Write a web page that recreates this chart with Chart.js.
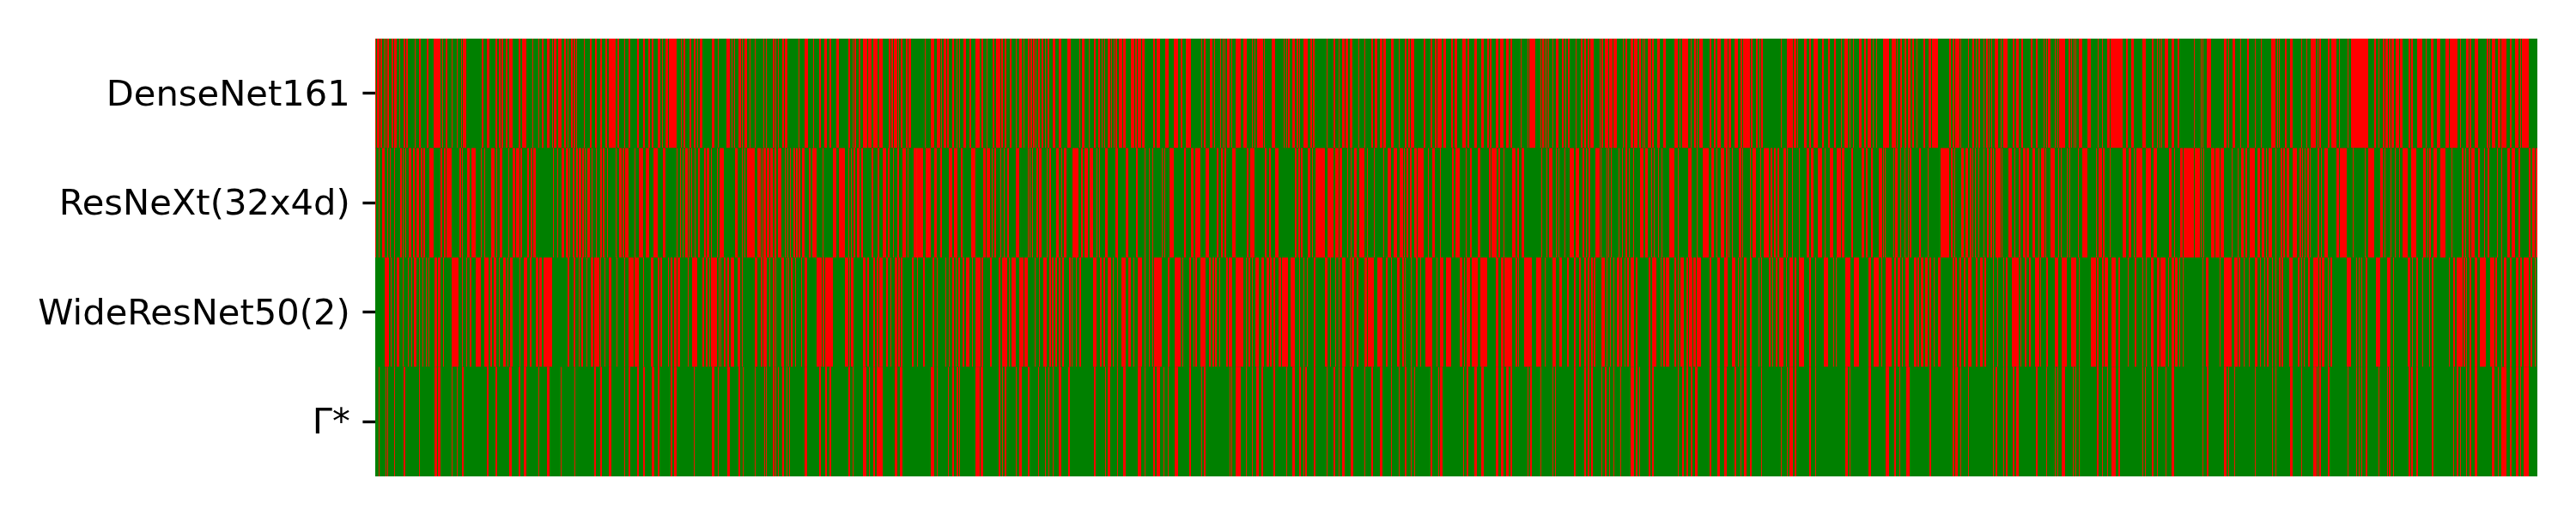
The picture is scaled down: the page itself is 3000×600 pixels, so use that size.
<!DOCTYPE html>
<html><head><meta charset="utf-8">
<style>html,body{margin:0;padding:0;background:#fff}canvas{display:block}</style>
<script src="https://cdn.jsdelivr.net/npm/chart.js@4"></script>
</head><body><canvas id="c" width="3000" height="600"></canvas>
<script>
const rowLabels = ["DenseNet161","ResNeXt(32x4d)","WideResNet50(2)","Γ*"];
const sampleCount = 2518;
const sectionSize = 315;
// Wrong-prediction runs per model, one list per section of samples: start, length, start, length ...
const denseNet161 = [
[0,1,2,3,6,2,10,1,12,1,14,2,19,2,22,3,28,1,33,2,36,2,46,1,51,2,60,2,68,8,78,1,82,2,89,1,95,1,100,1,102,4,124,2,130,3,140,2,144,2,147,2,152,2,156,4,167,2,171,5,183,1,190,1,194,2,200,3,206,1,208,3,213,4,220,2,224,1,228,2,231,2,234,1,243,1,250,2,256,2,262,2,268,2,272,8,282,2,290,1,295,2,305,2,312,2],
[3,2,7,2,14,3,19,1,23,3,27,9,41,1,44,2,51,2,56,2,60,1,63,3,77,3,84,1,94,4,100,1,103,1,108,3,112,1,115,3,121,1,127,1,137,1,140,1,148,2,151,1,154,1,159,2,162,3,178,1,185,4,195,1,202,2,208,3,214,2,222,3,236,2,241,1,243,2,248,2,253,5,259,4,265,5,272,4,283,2,286,2,289,4,294,1,297,2,303,2,306,3],
[10,1,17,4,24,4,29,1,32,3,36,2,42,2,47,1,50,1,55,3,62,2,69,5,76,2,82,1,89,2,93,5,99,2,103,2,109,2,116,1,120,3,125,1,130,2,133,2,136,2,139,1,142,2,146,2,150,1,153,2,159,3,166,3,176,4,190,1,193,3,201,1,207,2,212,2,216,1,219,1,223,3,227,1,230,1,232,2,236,4,241,3,250,4,255,2,258,4,263,3,276,2,280,4,290,4,300,5,308,2,314,1],
[0,5,17,1,20,2,27,3,32,1,39,1,42,1,44,1,47,3,52,1,57,6,66,4,76,1,79,1,82,7,90,1,99,4,113,1,116,1,118,2,123,3,128,2,131,1,136,5,144,2,147,2,163,1,171,2,177,1,181,3,185,3,190,2,192,1,200,1,207,1,215,2,219,3,225,3,229,3,238,3,247,1,254,2,258,2,261,4,276,2,284,2,289,2,292,3,295,2,299,3,308,2,312,3],
[6,4,12,2,20,3,28,3,35,2,38,2,45,3,50,4,57,3,62,2,74,1,82,1,84,7,97,1,99,2,102,1,104,1,106,1,111,1,115,3,122,2,126,1,129,2,138,1,144,2,148,2,152,2,155,4,166,1,168,2,172,4,177,4,182,4,193,1,196,2,202,3,206,4,212,2,216,1,218,1,222,4,227,2,233,3,240,3,253,4,259,1,262,7,272,1,276,2,279,1,282,4,294,2,299,2,303,4,311,4],
[1,3,8,4,15,2,18,8,27,2,33,2,37,1,39,2,62,1,69,7,77,3,81,1,89,3,95,2,100,5,110,2,117,2,124,2,132,1,136,4,142,1,146,1,153,3,159,2,163,4,169,1,173,1,181,7,191,5,197,1,201,2,206,2,210,3,215,2,220,1,228,2,234,3,238,3,241,4,258,2,262,2,265,5,271,1,280,1,285,2,289,1,292,2,298,1,301,2,304,1,307,1,311,4],
[3,1,6,5,17,2,21,3,27,2,38,2,44,2,53,1,56,1,58,3,66,1,69,1,71,7,82,2,85,1,88,1,90,1,94,4,104,4,116,1,121,1,127,3,131,14,149,2,155,3,168,4,179,2,185,1,188,1,190,1,194,4,202,3,209,2,228,1,236,1,238,1,243,5,263,3,268,1,273,3,282,1,290,2,299,1,306,1],
[3,5,10,1,12,1,19,2,25,3,38,1,44,1,49,6,57,1,59,2,69,2,73,6,82,1,92,1,96,3,99,14,113,3,123,2,128,1,133,2,136,3,140,2,143,3,148,4,153,3,163,2,166,2,173,6,183,1,189,3,196,4,206,4,211,2,213,7,223,1,230,3,234,2,240,4,254,2,257,1,260,4,267,3,271,6,281,2,287,4,293,1,295,8]
];
const resNeXt32x4d = [
[0,1,4,1,8,3,14,1,17,1,22,1,29,2,32,1,35,1,39,3,44,2,48,3,53,2,56,2,63,5,76,2,80,2,83,6,98,2,101,1,107,3,112,5,123,1,127,1,135,4,141,1,145,3,155,1,160,3,164,4,169,2,177,2,181,2,184,3,207,1,212,1,217,3,222,3,226,1,230,2,234,2,237,3,241,2,244,1,247,3,252,1,257,1,262,2,265,2,270,1,280,1,284,3,288,2,291,4,302,1,307,5],
[0,4,9,5,20,3,36,1,40,1,43,1,46,3,50,1,53,1,57,1,61,2,68,2,71,3,76,1,83,1,86,5,104,3,112,1,115,1,118,4,122,5,130,4,135,1,137,3,141,3,145,3,150,2,154,4,162,1,165,1,168,1,172,2,175,2,178,2,182,3,190,2,194,1,195,4,206,1,218,4,225,7,236,1,239,1,242,2,246,3,251,2,263,2,270,2,276,4,282,2,288,1,293,2,299,4,305,1,312,3],
[0,1,1,7,11,6,21,3,28,2,38,4,44,4,52,2,64,5,78,3,82,4,88,1,91,2,98,1,102,1,106,2,116,4,130,1,132,1,135,1,140,2,143,3,152,1,155,2,163,3,169,1,172,3,182,7,192,2,196,4,202,4,210,1,213,1,220,3,232,3,244,3,256,2,266,1,271,1,275,1,286,1,289,1,295,5,312,2],
[5,3,10,2,12,4,22,4,35,2,40,2,44,2,53,4,70,2,74,5,91,2,96,2,103,4,126,2,130,2,133,2,141,3,146,1,150,4,154,7,164,4,168,3,173,4,178,3,187,1,191,1,195,3,201,6,210,1,218,1,229,1,234,4,241,4,248,4,253,1,256,2,260,2,265,3,269,7,281,1,286,3,295,1,309,2,313,2],
[0,3,10,1,15,2,24,3,37,2,40,6,48,2,54,1,64,4,70,2,75,3,98,1,104,1,107,4,115,1,118,1,125,1,131,5,138,4,146,2,150,1,153,2,161,5,167,1,174,1,176,1,179,1,188,1,192,1,196,2,200,1,205,1,213,4,219,3,226,1,229,1,234,1,238,1,247,6,257,1,269,4,279,1,286,7,296,3,302,1,307,4,313,2],
[1,1,5,1,13,3,17,1,26,1,29,4,38,1,42,6,50,2,54,2,58,2,65,3,69,1,75,1,83,1,92,3,97,3,105,5,113,1,119,4,127,5,133,3,144,2,156,3,161,2,167,2,176,4,181,1,183,1,193,1,195,3,201,1,206,1,210,1,212,2,223,2,233,1,248,10,260,2,264,1,272,3,277,3,282,2,285,1,288,1,292,1,298,1,302,2,306,2,309,1,312,3],
[0,3,4,1,12,4,19,1,24,2,29,3,33,3,40,3,47,1,50,4,55,1,61,5,70,1,73,1,80,1,83,1,93,1,98,6,114,1,117,4,122,2,130,1,145,4,152,3,158,1,161,7,172,6,181,4,199,3,205,1,212,3,216,12,229,6,236,1,239,1,248,4,253,5,259,4,272,1,279,1,283,3,288,2,293,6,302,3,307,3,312,1],
[0,4,8,1,14,2,17,2,21,3,28,5,36,2,39,1,42,1,45,2,48,1,57,2,61,1,65,4,79,3,83,8,98,1,112,1,116,7,130,3,135,1,142,1,147,1,152,1,156,6,166,6,180,3,185,1,187,2,192,4,200,6,213,1,225,2,229,1,233,2,236,4,244,2,251,1,255,2,266,1,271,1,278,3,283,4,291,2,303,2,307,3,311,2]
];
const wideResNet502 = [
[11,5,18,1,22,1,25,3,32,1,38,1,42,1,45,3,51,1,55,1,59,1,62,1,69,3,73,3,79,1,89,8,101,1,106,1,110,2,117,6,127,5,134,2,138,3,144,1,149,3,154,1,157,3,168,1,173,4,180,2,187,3,191,3,196,10,224,2,231,2,237,1,240,2,246,1,251,3,255,2,257,4,262,1,267,1,272,3,281,1,290,1,295,6,302,5,312,1],
[6,3,14,2,17,2,26,1,29,2,33,3,37,3,49,1,54,4,58,2,66,2,70,2,74,1,76,7,85,1,87,1,91,2,95,2,99,2,101,2,107,3,112,1,127,3,134,2,137,4,144,1,148,2,151,1,158,3,164,1,166,1,169,2,174,1,181,1,185,3,199,6,206,2,209,9,232,4,237,1,239,3,253,3,258,2,265,2,269,2,272,4,280,2,285,1,290,3,294,2,297,2,310,2],
[1,1,8,2,19,2,24,1,34,1,38,1,42,2,46,1,49,2,54,2,58,4,65,1,69,6,76,2,86,2,96,2,100,6,108,1,111,5,120,5,126,4,138,1,143,1,148,4,155,2,158,2,162,2,166,2,170,2,178,2,181,1,186,1,190,2,206,4,214,2,218,2,223,4,229,1,234,1,239,5,247,3,253,1,258,5,266,1,271,1,275,1,277,9,293,2,301,7,310,1],
[3,2,8,1,10,2,16,6,26,2,30,2,33,2,38,1,46,2,49,4,57,9,69,1,72,2,76,1,80,4,87,3,93,3,97,2,101,2,107,3,111,7,121,5,131,1,136,1,140,1,148,2,161,3,167,1,173,1,177,1,181,4,190,1,192,3,198,2,207,3,211,7,222,6,232,2,238,1,245,3,251,2,254,1,261,1,267,2,272,1,278,8,291,1,295,4,302,6],
[3,3,8,1,11,4,17,7,27,8,45,3,51,3,55,9,68,2,71,1,78,7,85,2,92,6,102,1,111,4,119,3,128,2,136,2,142,2,148,2,152,2,156,2,159,2,168,4,174,1,178,1,182,1,186,3,190,2,195,1,198,2,202,4,208,2,223,2,227,5,237,1,240,2,243,4,253,2,257,1,260,4,267,2,270,4,275,3,279,5,294,2,303,3,311,4],
[5,4,12,1,15,1,19,3,26,2,36,1,39,1,48,2,52,1,56,2,60,5,68,1,72,4,78,2,83,6,95,2,102,1,112,5,123,1,126,1,137,6,147,6,164,3,170,6,179,1,184,7,194,2,198,3,203,1,207,4,217,3,221,2,225,3,230,3,235,2,240,1,245,3,262,2,265,2,270,2,275,2,280,4,289,2,294,3,299,2,309,1,314,1],
[6,1,9,2,16,4,20,4,26,1,31,2,36,2,43,5,49,1,56,2,66,4,74,6,85,6,94,1,108,6,115,2,121,2,124,4,132,5,140,2,151,1,159,2,168,1,172,1,178,3,185,3,189,3,192,3,198,1,202,3,206,3,211,1,215,1,238,1,242,3,258,1,263,9,275,4,280,2,286,1,292,1,299,3,305,1,310,1,313,2],
[4,1,8,1,12,2,15,2,24,4,34,2,38,1,41,1,46,2,52,6,59,2,62,3,69,1,72,2,91,5,102,1,105,1,108,1,113,2,125,5,138,4,145,1,162,3,167,1,172,2,179,1,187,1,190,2,210,1,215,2,219,7,227,2,230,1,234,2,240,3,246,5,251,2,258,5,264,2,271,1,274,3,281,2,288,3,293,2,297,6,305,2,310,1]
];
const gammaStar = [
[4,1,12,1,14,1,22,1,33,2,51,1,69,3,73,3,89,1,95,1,101,2,130,2,140,2,156,3,167,2,173,3,190,1,200,3,216,1,232,1,255,2,262,2,272,3,290,1,295,2,305,2,312,2],
[7,3,14,2,29,2,33,3,56,1,77,3,84,1,95,3,108,2,113,1,127,1,138,1,140,1,148,2,151,1,154,1,159,2,164,1,167,1,185,3,202,2,209,2,214,2,236,2,241,1,253,4,260,1,265,2,269,7,290,3,296,3],
[17,4,24,1,37,1,42,2,47,2,50,1,69,5,75,3,96,2,100,1,103,2,116,1,120,3,130,2,142,1,150,1,154,1,159,1,166,3,177,2,207,2,220,1,223,3,234,1,241,3,258,4,266,1,276,2,280,4,288,1,293,1,301,4],
[3,2,17,1,20,2,50,1,52,1,57,6,69,1,76,1,81,3,87,2,101,2,116,1,123,3,131,2,136,1,138,2,148,2,163,1,171,2,177,1,181,3,191,3,207,1,215,2,225,3,238,1,247,1,254,2,261,1,265,1,284,2,293,1,295,3],
[7,1,11,2,20,3,28,3,45,3,51,3,57,3,62,2,82,1,85,2,97,1,111,1,114,1,136,2,148,2,152,2,156,2,168,1,172,2,177,1,182,1,190,1,202,4,208,2,212,1,223,2,227,2,257,1,262,2,267,2,272,2,277,3,294,2,303,3,311,3],
[8,2,15,1,19,3,26,2,39,1,62,1,69,1,72,4,78,2,95,2,102,1,137,3,142,1,164,3,184,4,194,2,200,1,208,4,235,2,262,2,265,3,271,1,280,1,309,1,312,2],
[6,1,9,2,17,2,21,3,44,2,56,1,66,1,69,1,74,4,87,1,90,1,94,1,115,2,121,1,127,1,132,5,140,2,168,1,171,1,179,2,185,1,195,1,202,3,238,1,243,2,263,3,268,1,275,1,299,1],
[4,1,8,1,25,3,38,1,52,4,57,1,59,2,69,2,92,1,102,1,105,1,108,1,113,2,128,1,138,1,140,2,145,1,163,2,166,2,172,2,190,2,215,1,219,2,223,1,230,1,234,2,240,3,260,3,267,1,271,6,281,2,288,3,293,1,297,6]
];

const GREEN = "#008000", RED = "#ff0000", THIN = "#e61a00";
function cellColours(sections) {
  const c = new Array(sampleCount).fill(GREEN);
  sections.forEach((s, k) => {
    for (let i = 0; i < s.length; i += 2) {
      for (let j = 0; j < s[i + 1]; j++) {
        const col = k * sectionSize + s[i] + j;
        if (col < sampleCount) c[col] = s[i + 1] === 1 ? THIN : RED;
      }
    }
  });
  return c;
}
const samples = Array.from({length: sampleCount}, (_, i) => i);
const rows = [gammaStar, wideResNet502, resNeXt32x4d, denseNet161]; // bottom to top
const datasets = rows.map(r => ({
  data: samples.map(() => 1),
  backgroundColor: cellColours(r),
  borderWidth: 0,
  barPercentage: 1,
  categoryPercentage: 1,
  inflateAmount: 0,
  stack: "s"
}));
const underlay = {
  id: "underlay",
  beforeDatasetsDraw(ch) {
    const a = ch.chartArea, g = ch.ctx;
    g.save(); g.fillStyle = GREEN; g.fillRect(a.left, a.top, a.width, a.height); g.restore();
  }
};
new Chart(document.getElementById("c"), {
  type: "bar",
  data: {labels: samples, datasets},
  plugins: [underlay],
  options: {
    responsive: false,
    animation: false,
    events: [],
    layout: {padding: {top: 45, bottom: 45, right: 45, left: 0}},
    plugins: {legend: {display: false}, tooltip: {enabled: false}, title: {display: false}},
    scales: {
      x: {type: "category", stacked: true, display: false, offset: true, grid: {display: false}},
      y: {
        type: "linear", stacked: true, min: 0, max: 4,
        afterBuildTicks(s) { s.ticks = [3.5, 2.5, 1.5, 0.5].map(v => ({value: v})); },
        afterFit(s) { s.width = 437; },
        border: {display: false},
        grid: {display: true, drawOnChartArea: false, drawTicks: true, tickLength: 14.6, tickWidth: 3.33, tickColor: "#000"},
        ticks: {
          autoSkip: false, maxRotation: 0, padding: 14.6, color: "#000", labelOffset: 3,
          font: {family: "'DejaVu Sans'", size: 41.67},
          callback(v) { return rowLabels[3.5 - v]; }
        }
      }
    }
  }
});
</script></body></html>
